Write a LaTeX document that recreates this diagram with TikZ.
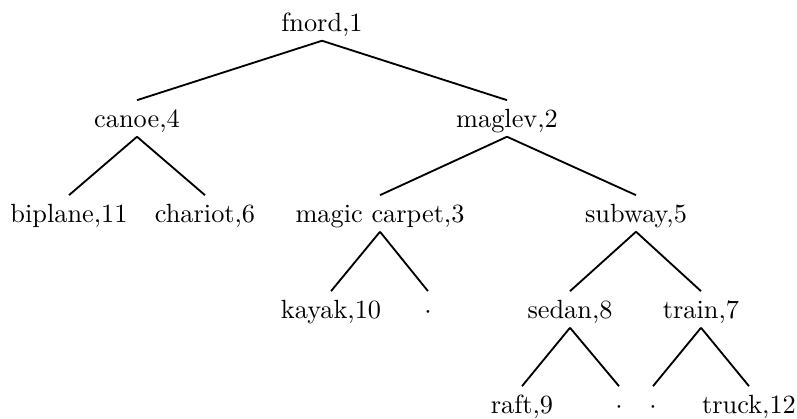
\documentclass[tikz,border=0pt]{standalone}
\usepackage{tikz}

\begin{document}
\begin{tikzpicture}[
    x=0.38pt, y=-0.38pt,
    vehicle/.style={anchor=base, text height=7pt, text depth=0.5pt, inner xsep=0pt, inner ysep=3pt},
    branch/.style={line width=0.7pt}
]
\useasboundingbox (0,0) rectangle (797,418);

% root
\node[vehicle] (fnord) at (322,31) {fnord,1};

% second level
\node[vehicle] (canoe)  at (137,127) {canoe,4};
\node[vehicle] (maglev) at (507,127) {maglev,2};

% third level
\node[vehicle] (biplane) at (69,222)  {biplane,11};
\node[vehicle] (chariot) at (205,222) {chariot,6};
\node[vehicle] (carpet)  at (380,222) {magic carpet,3};
\node[vehicle] (subway)  at (636,222) {subway,5};

% fourth level
\node[vehicle] (kayak)  at (331,318) {kayak,10};
\node[vehicle] (nil1)   at (428,318) {$\cdot$};
\node[vehicle] (sedan)  at (570,318) {sedan,8};
\node[vehicle] (train)  at (701,318) {train,7};

% fifth level
\node[vehicle] (raft)  at (522,413) {raft,9};
\node[vehicle] (nil2)  at (619,413) {$\cdot$};
\node[vehicle] (nil3)  at (653,413) {$\cdot$};
\node[vehicle] (truck) at (749,413) {truck,12};

% branches from fnord
\draw[branch] (fnord.south) -- (canoe.north);
\draw[branch] (fnord.south) -- (maglev.north);

% branches from canoe
\draw[branch] (canoe.south) -- (biplane.north);
\draw[branch] (canoe.south) -- (chariot.north);

% branches from maglev
\draw[branch] (maglev.south) -- (carpet.north);
\draw[branch] (maglev.south) -- (subway.north);

% branches from magic carpet
\draw[branch] (carpet.south) -- (kayak.north);
\draw[branch] (carpet.south) -- (nil1.north);

% branches from subway
\draw[branch] (subway.south) -- (sedan.north);
\draw[branch] (subway.south) -- (train.north);

% branches from sedan and train
\draw[branch] (sedan.south) -- (raft.north);
\draw[branch] (sedan.south) -- (nil2.north);
\draw[branch] (train.south) -- (nil3.north);
\draw[branch] (train.south) -- (truck.north);

\end{tikzpicture}
\end{document}
